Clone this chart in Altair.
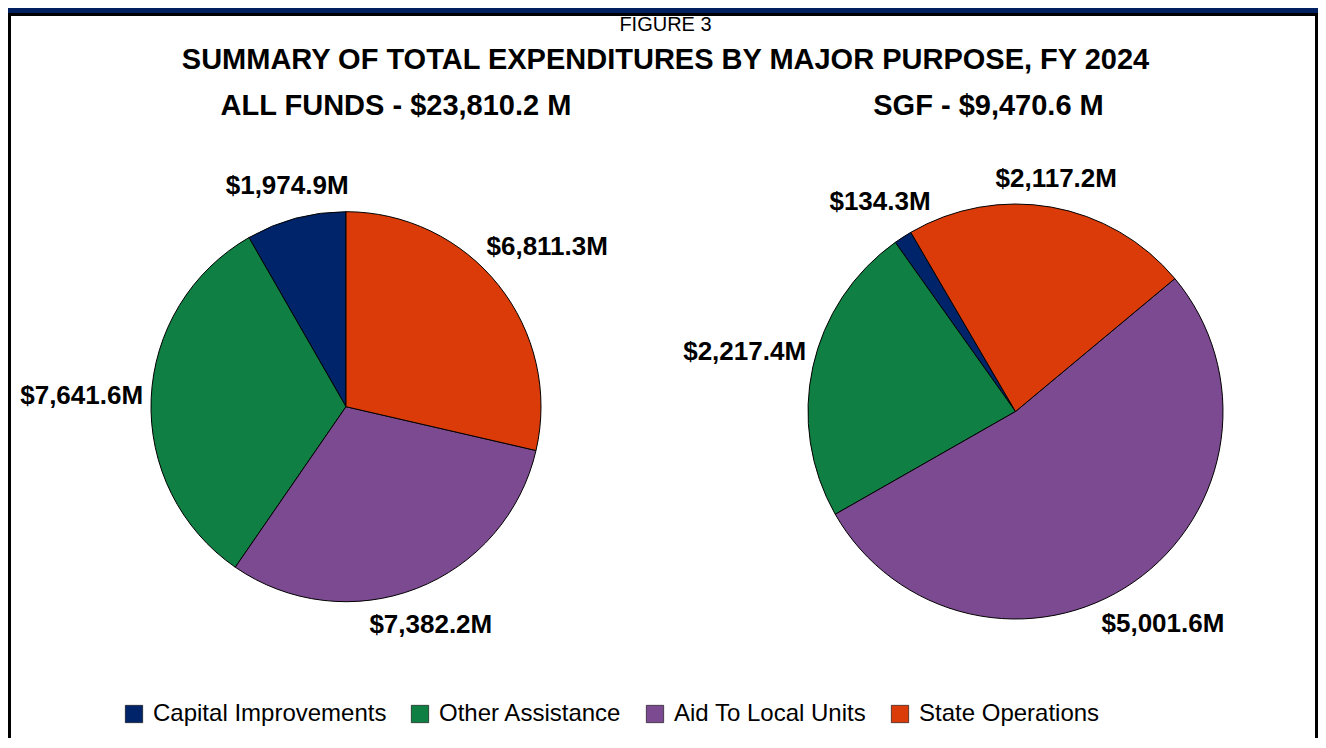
import math
import altair as alt
import pandas as pd

# ---------------- data ----------------
categories = ["Capital Improvements", "Other Assistance", "Aid To Local Units", "State Operations"]
all_funds_values = [1974.9, 7641.6, 7382.2, 6811.3]
sgf_values = [134.3, 2217.4, 5001.6, 2117.2]
clockwise_rank = [4, 3, 2, 1]          # slice order going clockwise
colors = ["#002469", "#0F7F43", "#7C4A91", "#DA3B08"]

figure_label = "FIGURE 3"
main_title = "SUMMARY OF TOTAL EXPENDITURES BY MAJOR PURPOSE, FY 2024"
pie_titles = ["ALL FUNDS - $23,810.2 M", "SGF - $9,470.6 M"]

# ---------------- layout ----------------
W, H = 1310, 730
FONT = "Liberation Sans"
one = pd.DataFrame({"k": [0]})


def box(x, x2, y, y2, color):
    return alt.Chart(one).mark_rect(color=color).encode(
        x=alt.value(x), x2=alt.value(x2), y=alt.value(y), y2=alt.value(y2)
    )


def title_text(text, x, y, size, weight):
    return alt.Chart(pd.DataFrame({"t": [text]})).mark_text(
        font=FONT, fontSize=size, fontWeight=weight, color="black",
        align="center", baseline="middle"
    ).encode(x=alt.value(x), y=alt.value(y), text="t:N")


color_enc = alt.Color(
    "category:N",
    scale=alt.Scale(domain=categories, range=colors),
    legend=alt.Legend(
        orient="none", legendX=114, legendY=694, direction="horizontal", columns=4,
        title=None, symbolType="square", symbolSize=300,
        symbolStrokeColor="black", symbolStrokeWidth=0.6, symbolOpacity=1,
        labelFont=FONT, labelFontSize=24, labelColor="black",
        labelOffset=7, columnPadding=21, labelLimit=0,
    ),
)


def pie(values, cx, cy, r, start_deg, gap=8):
    df = pd.DataFrame({"category": categories, "value": values, "rank": clockwise_rank})
    start = math.radians(start_deg)
    base = alt.Chart(df)
    arc = base.mark_arc(outerRadius=r, stroke="black", strokeWidth=1).encode(
        theta=alt.Theta("value:Q", stack=True,
                        scale=alt.Scale(range=[start, start + 2 * math.pi])),
        color=color_enc,
        order=alt.Order("rank:Q"),
        x=alt.value(cx),
        y=alt.value(cy),
    )
    labels = (
        base.transform_window(cum="sum(value)", sort=[alt.SortField("rank", order="ascending")])
        .transform_joinaggregate(total="sum(value)")
        .transform_calculate(
            a=f"{start} + 2*PI*(datum.cum - datum.value/2)/datum.total",
            label="format(datum.value, '$,.1f') + 'M'",
        )
        .transform_calculate(
            d=f"{r + gap} + length(datum.label)*6.8*abs(sin(datum.a)) + 10*abs(cos(datum.a))"
        )
        .transform_calculate(
            px=f"{cx} + datum.d*sin(datum.a)",
            py=f"{cy} - datum.d*cos(datum.a)",
        )
        .mark_text(font=FONT, fontSize=26, fontWeight="bold", color="black",
                   align="center", baseline="middle")
        .encode(
            x=alt.X("px:Q", scale=None),
            y=alt.Y("py:Q", scale=None),
            text="label:N",
        )
    )
    return arc, labels


left_arc, left_labels = pie(all_funds_values, 338, 398.7, 195, 0)
right_arc, right_labels = pie(sgf_values, 1007.5, 403.5, 207.5, -30.3)

layers = [
    box(0, W, 0, 5, "#002060"),
    box(0, W, 5, 8, "black"),
    box(0, 3, 5, H, "black"),
    box(W - 3, W, 5, H, "black"),
    title_text(figure_label, 657.5, 17, 20, "normal"),
    title_text(main_title, 657.5, 52, 29, "bold"),
    title_text(pie_titles[0], 388, 98, 29, "bold"),
    title_text(pie_titles[1], 980.5, 98, 29, "bold"),
    left_arc, left_labels, right_arc, right_labels,
]

chart = (
    alt.layer(*layers)
    .resolve_scale(theta="independent")
    .properties(width=W, height=H, padding=0, autosize="none", background="white")
    .configure_view(stroke=None)
)

chart.save("out.html", embed_options={"renderer": "svg", "actions": False})
